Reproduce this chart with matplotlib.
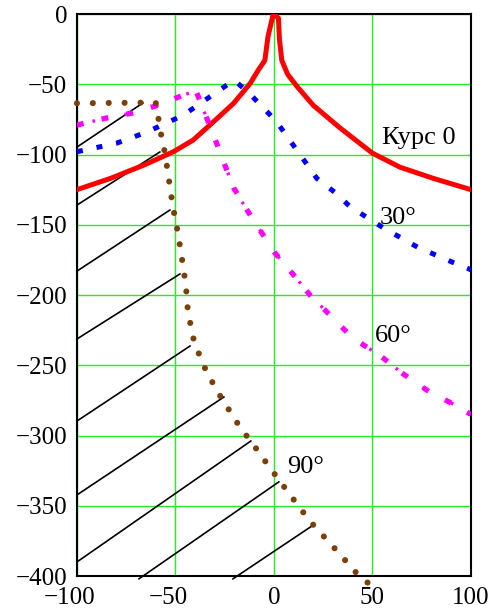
import matplotlib
matplotlib.use("Agg")
import matplotlib.pyplot as plt

plt.rcParams['font.family'] = ['Liberation Serif', 'DejaVu Serif']

# course 0 (red solid)
x_k0 = [-100, -83, -66, -51, -41, -30.6, -20.5, -12, -8, -4.6, -3, -0.5, 0, 2.3, 2.8, 4, 7, 12, 20, 33.5, 50, 64, 81, 100]
y_k0 = [-125, -117, -107.5, -98, -89.7, -76.6, -63.6, -49.3, -40, -33, -16, -1, 0, -3, -18, -33, -43, -52, -65, -81, -99, -109, -117, -125]

# course 30 (blue dotted)
x_k30 = [-100, -80, -64.5, -46, -29, -20.3, -13, -5.7, 1, 6.1, 11.7, 21.8, 31, 38.6, 55.3, 73, 90.4, 100]
y_k30 = [-98, -92, -84, -72, -55.5, -47, -55.7, -66.4, -76, -86, -97, -117, -127, -137, -152, -166, -176.5, -182]

# course 60 (magenta dash-dot)
x_k60 = [-100, -85, -72, -59, -46, -39.6, -37.2, -33, -28.8, -24.5, -20.3, -13.9, -6.8, 0.5, 9, 18.3, 29.4, 40, 53.8, 65.5, 79, 93, 100]
y_k60 = [-79, -74, -70.5, -65, -57.7, -54.6, -63, -78, -93, -109, -124, -139, -154.4, -170, -184, -200, -215.6, -230.6, -243, -256, -269, -279, -285]

# course 90 (brown round dots)
x_k90 = [-100, -60, -59, -57.9, -56.7, -55.3, -53.3, -51.3, -48.7, -46.7, -44.7, -43.7, -41.1, -36.5, -29, -16.8, -11.2, -2, 8.1, 18.3, 30, 42, 49.5]
y_k90 = [-63.5, -63, -71, -81, -90, -99, -118, -137, -156, -174, -193, -211, -230, -248, -268, -295, -305, -323, -342, -361, -379, -398, -407]

# hatching to the left of the 90 degree curve
hatch_x0 = [-100, -100, -100, -100, -100, -100, -100, -68.5, -20.8]
hatch_y0 = [-94.7, -136, -183, -231.3, -289.7, -342.3, -390, -402, -402]
hatch_x1 = [-66.5, -57.9, -52.8, -47.7, -42.6, -25.4, -11.7, 2.5, 19.3]
hatch_y1 = [-63.3, -98.2, -139.5, -185, -236.3, -272.6, -303.9, -333, -364.4]

labels = ["Курс 0", "30°", "60°", "90°"]
label_x = [54.8, 53.8, 51.3, 6.6]
label_y = [-92.5, -149.5, -233.5, -326.7]

xticks = [-100, -50, 0, 50, 100]
yticks = [0, -50, -100, -150, -200, -250, -300, -350, -400]

fig = plt.figure(figsize=(4.9, 6.1), dpi=100)
ax = fig.add_axes([0.157, 0.0557, 0.804, 0.9213])

ax.set_xlim(-100, 100)
ax.set_ylim(-400, 0)
ax.set_xticks(xticks)
ax.set_yticks(yticks)
ax.grid(True, color='#22ee22', lw=1.0)
ax.set_axisbelow(True)
ax.tick_params(length=0, labelsize=18)
ax.tick_params(axis='y', pad=7)
ax.set_xticklabels([])
for s in ax.spines.values():
    s.set_linewidth(1.5)
    s.set_color('black')

# x tick labels: number centred on the tick, minus sign hanging to the left
for v in xticks:
    txt = str(v).replace('-', '\u2212')
    dx = -5 if v < 0 else 0
    ax.annotate(txt, xy=(v, 0), xycoords=('data', 'axes fraction'),
                xytext=(dx, -8), textcoords='offset points',
                ha='center', va='top', fontsize=18)

for i in range(len(hatch_x0)):
    ax.plot([hatch_x0[i], hatch_x1[i]], [hatch_y0[i], hatch_y1[i]],
            color='black', lw=1.2, clip_on=False, zorder=2)

ax.plot(x_k0, y_k0, color='#ff0000', lw=3.6, solid_joinstyle='round', zorder=3)

ax.plot(x_k30, y_k30, color='#0000ff', lw=3.6, linestyle=(0, (1.2, 2.8)),
        dash_capstyle='butt', zorder=3)

ax.plot(x_k60, y_k60, color='#ff00ff', lw=3.8, linestyle=(0, (1.3, 3.5)),
        dash_capstyle='butt', zorder=3)
ax.plot(x_k60, y_k60, color='#ff00ff', lw=2.4, linestyle=(5.0, (0.8, 9.0)),
        dash_capstyle='butt', zorder=3)

ax.plot(x_k90, y_k90, color='#7a4006', lw=4.4, linestyle=(0, (0.001, 2.6)),
        dash_capstyle='round', clip_on=False, zorder=3)

for t, lx, ly in zip(labels, label_x, label_y):
    ax.text(lx, ly, t, ha='left', va='baseline', fontsize=19)

fig.savefig('out.png', dpi=100)
